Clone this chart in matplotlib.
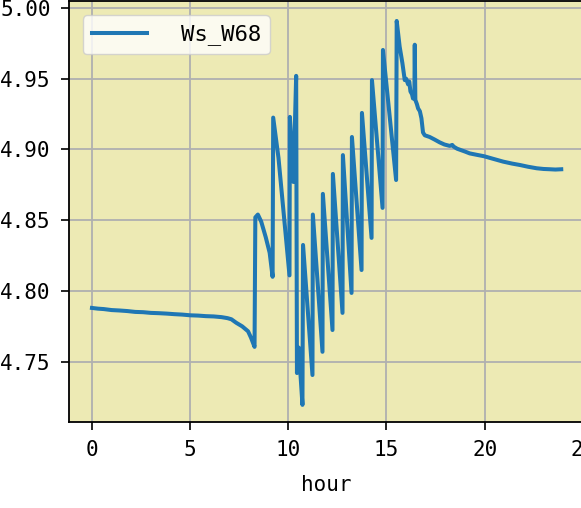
import matplotlib
matplotlib.use("Agg")
import matplotlib.pyplot as plt

plt.rcParams['font.family'] = ['DejaVu Sans Mono', 'DejaVu Sans']

series_label = 'Ws_W68'
x_label = 'hour'
x_ticks = [0, 5, 10, 15, 20, 25]
y_ticks = [4.75, 4.80, 4.85, 4.90, 4.95, 5.00]

hours = [
    0.00, 0.30, 0.60, 1.00, 1.40, 1.80, 2.20, 2.60, 3.00, 3.40, 3.80, 4.20,
    4.60, 5.00, 5.40, 5.80, 6.20, 6.60, 6.90, 7.10, 7.35, 7.65, 7.95, 8.10,
    8.28, 8.32, 8.45, 8.62, 8.85, 9.05, 9.20, 9.23, 9.50, 10.06, 10.08,
    10.26, 10.40, 10.44, 10.53, 10.72, 10.75, 11.23, 11.25, 11.74, 11.76,
    12.25, 12.27, 12.76, 12.78, 13.22, 13.24, 13.73, 13.75, 14.24, 14.26,
    14.80, 14.82, 15.49, 15.52, 15.67, 15.81, 15.93, 16.00, 16.10, 16.16,
    16.22, 16.30, 16.35, 16.42, 16.44, 16.47, 16.55, 16.61, 16.70, 16.78,
    16.86, 16.95, 17.20, 17.45, 17.71, 17.95, 18.22, 18.35, 18.42, 18.60,
    19.00, 19.24, 19.60, 19.97, 20.40, 20.94, 21.40, 21.80, 22.20, 22.65,
    23.00, 23.33, 23.60, 23.90,
]
ws_w68 = [
    4.7880, 4.7875, 4.7872, 4.7865, 4.7862, 4.7858, 4.7852, 4.7850, 4.7845,
    4.7843, 4.7840, 4.7836, 4.7833, 4.7828, 4.7826, 4.7822, 4.7820, 4.7815,
    4.7808, 4.7800, 4.7775, 4.7750, 4.7715, 4.7670, 4.7605, 4.8520, 4.8540,
    4.8490, 4.8380, 4.8270, 4.8100, 4.9225, 4.8940, 4.8110, 4.9230, 4.8770,
    4.9520, 4.7420, 4.7600, 4.7195, 4.8325, 4.7406, 4.8540, 4.7570, 4.8686,
    4.7724, 4.8827, 4.7845, 4.8960, 4.7986, 4.9088, 4.8148, 4.9258, 4.8375,
    4.9490, 4.8587, 4.9703, 4.8784, 4.9908, 4.9727, 4.9610, 4.9490, 4.9500,
    4.9460, 4.9480, 4.9410, 4.9390, 4.9360, 4.9370, 4.9740, 4.9350, 4.9320,
    4.9290, 4.9270, 4.9220, 4.9120, 4.9100, 4.9088, 4.9070, 4.9050, 4.9035,
    4.9025, 4.9032, 4.9020, 4.9005, 4.8985, 4.8972, 4.8962, 4.8952, 4.8935,
    4.8914, 4.8900, 4.8890, 4.8878, 4.8867, 4.8862, 4.8860, 4.8858, 4.8860,
]

W, H = 581, 508
fig = plt.figure(figsize=(W / 100, H / 100), dpi=100)
left_px, right_px, top_px, bottom_px = 68.5, 584.7, 1.0, 422.0
ax = fig.add_axes([left_px / W, 1 - bottom_px / H,
                   (right_px - left_px) / W, (bottom_px - top_px) / H])
ax.set_facecolor('#EDEAB4')
ax.plot(hours, ws_w68, color='#1f77b4', lw=2.9, label=series_label)
ax.set_xlim(-1.195, 25.095)
ax.set_ylim(4.7074, 5.0049)
ax.set_xticks(x_ticks)
ax.set_yticks(y_ticks)
ax.yaxis.set_major_formatter('{x:.2f}')
ax.grid(True, color='#b0b0b0', lw=1.3)
ax.tick_params(length=5.8, width=1.2, labelsize=15, pad=7)
for s in ax.spines.values():
    s.set_linewidth(1.3)
ax.set_xlabel(x_label, fontsize=15, labelpad=11)
ax.legend(loc='upper left', fontsize=16, handlelength=2.5, handletextpad=1.5,
          borderaxespad=0.65)
fig.savefig('out.png', dpi=100)
